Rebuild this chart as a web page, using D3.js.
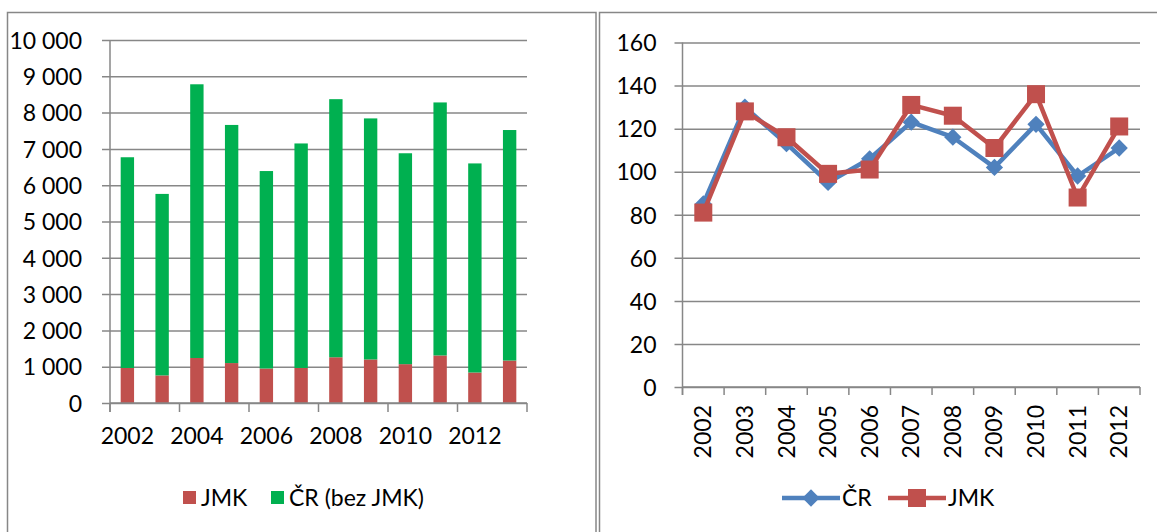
<!DOCTYPE html>
<html><head><meta charset="utf-8">
<script src="https://cdn.jsdelivr.net/npm/d3@7/dist/d3.min.js"></script>
<style>
body{margin:0;background:#fff}
text{font-family:Lato,"Open Sans",sans-serif;fill:#000}
</style>
</head><body>
<svg id="c" width="1157" height="532"></svg>
<script>
// ---- data: left chart (stacked bars) ----
const years = [2002,2003,2004,2005,2006,2007,2008,2009,2010,2011,2012,2013];
const jmk   = [965,760,1240,1100,950,965,1260,1200,1070,1310,840,1170];
const crBez = [5805,5000,7540,6560,5440,6185,7110,6640,5810,6970,5760,6350];
const leftTicks = [0,1000,2000,3000,4000,5000,6000,7000,8000,9000,10000];
const leftLabelYears = [2002,2004,2006,2008,2010,2012];
const leftLegend = ["JMK","ČR (bez JMK)"];

// ---- data: right chart (lines) ----
const lineYears = [2002,2003,2004,2005,2006,2007,2008,2009,2010,2011,2012];
const crIdx  = [85,130,113,95,106,123,116,102,122,98,111];
const jmkIdx = [81,128,116,99,101,131,126,111,136,88,121];
const rightTicks = [0,20,40,60,80,100,120,140,160];
const rightLegend = ["ČR","JMK"];

const GRID = "#878787", RED = "#C0504D", GREEN = "#00B050", BLUE = "#4F81BD";
const FS = 23;
const svg = d3.select("#c");

// panel borders
svg.append("rect").attr("x",7.5).attr("y",12.5).attr("width",588.5).attr("height",530)
  .attr("fill","none").attr("stroke",GRID).attr("stroke-width",1.5);
svg.append("rect").attr("x",599.5).attr("y",12.5).attr("width",570).attr("height",530)
  .attr("fill","none").attr("stroke",GRID).attr("stroke-width",1.5);

// ================= LEFT =================
{
  const L = {x0:110, x1:527, y0:403, y1:40};
  const x = d3.scaleBand().domain(years).range([L.x0,L.x1]).padding(0);
  const y = d3.scaleLinear().domain([0,10000]).range([L.y0,L.y1]);
  const g = svg.append("g");
  const fmt = d => d3.format(",")(d).replace(/,/g," ");
  const ya = g.append("g").attr("transform",`translate(${L.x0},0)`)
    .call(d3.axisLeft(y).tickValues(leftTicks).tickFormat(fmt)
      .tickSize(-(L.x1-L.x0)).tickSizeOuter(0).tickPadding(28));
  ya.select(".domain").remove();
  ya.selectAll("line").attr("stroke",GRID).attr("stroke-width",1.5).attr("x1",-8).attr("x2",L.x1-L.x0);
  ya.selectAll("text").attr("font-size",FS).attr("dy","0.36em");
  g.append("line").attr("x1",L.x0).attr("x2",L.x0).attr("y1",y(10000)).attr("y2",L.y0+9)
    .attr("stroke",GRID).attr("stroke-width",1.5);

  const bw = x.bandwidth()*0.385;
  g.selectAll(".r").data(years).join("rect")
    .attr("x",d=>x(d)+(x.bandwidth()-bw)/2).attr("width",bw)
    .attr("y",(d,i)=>y(jmk[i])).attr("height",(d,i)=>y(0)-y(jmk[i])).attr("fill",RED);
  g.selectAll(".gr").data(years).join("rect")
    .attr("x",d=>x(d)+(x.bandwidth()-bw)/2).attr("width",bw)
    .attr("y",(d,i)=>y(jmk[i]+crBez[i])).attr("height",(d,i)=>y(jmk[i])-y(jmk[i]+crBez[i])).attr("fill",GREEN);

  const xa = g.append("g").attr("transform",`translate(0,${L.y0})`)
    .call(d3.axisBottom(x).tickValues(leftLabelYears).tickSize(0).tickPadding(25));
  xa.select(".domain").remove();
  xa.selectAll("text").attr("font-size",FS);
  g.append("line").attr("x1",L.x0).attr("x2",L.x1).attr("y1",L.y0).attr("y2",L.y0)
    .attr("stroke",GRID).attr("stroke-width",1.5);
  const bounds = years.map(d=>x(d)).concat([L.x1]).filter((d,i)=>i%2===0);
  g.selectAll(".xt").data(bounds).join("line")
    .attr("x1",d=>d).attr("x2",d=>d).attr("y1",L.y0).attr("y2",L.y0+9)
    .attr("stroke",GRID).attr("stroke-width",1.5);

  const lg = g.append("g");
  const items = [{t:leftLegend[0],c:RED,x:183},{t:leftLegend[1],c:GREEN,x:271}];
  items.forEach(it=>{
    lg.append("rect").attr("x",it.x).attr("y",491).attr("width",13).attr("height",13).attr("fill",it.c);
    lg.append("text").attr("x",it.x+18).attr("y",506).attr("font-size",FS).text(it.t);
  });
}

// ================= RIGHT =================
{
  const R = {x0:682.5, x1:1140, y0:387, y1:42.5};
  const x = d3.scaleBand().domain(lineYears).range([R.x0,R.x1]).padding(0);
  const y = d3.scaleLinear().domain([0,160]).range([R.y0,R.y1]);
  const g = svg.append("g");
  const ya = g.append("g").attr("transform",`translate(${R.x0},0)`)
    .call(d3.axisLeft(y).tickValues(rightTicks).tickSize(-(R.x1-R.x0)).tickSizeOuter(0).tickPadding(26));
  ya.select(".domain").remove();
  ya.selectAll("line").attr("stroke",GRID).attr("stroke-width",1.5).attr("x1",-8).attr("x2",R.x1-R.x0);
  ya.selectAll("text").attr("font-size",FS).attr("dy","0.36em");
  g.append("line").attr("x1",R.x0).attr("x2",R.x0).attr("y1",y(160)).attr("y2",R.y0+8)
    .attr("stroke",GRID).attr("stroke-width",1.5);

  g.append("line").attr("x1",R.x0).attr("x2",R.x1).attr("y1",R.y0).attr("y2",R.y0)
    .attr("stroke",GRID).attr("stroke-width",1.5);
  const bounds = lineYears.map(d=>x(d)).concat([R.x1]);
  g.selectAll(".xt").data(bounds).join("line")
    .attr("x1",d=>d).attr("x2",d=>d).attr("y1",R.y0).attr("y2",R.y0+8)
    .attr("stroke",GRID).attr("stroke-width",1.5);
  const xa = g.append("g").attr("transform",`translate(0,${R.y0})`)
    .call(d3.axisBottom(x).tickSize(0).tickPadding(0));
  xa.select(".domain").remove();
  xa.selectAll("text").attr("font-size",FS).attr("text-anchor","end")
    .attr("transform","translate(0,18) rotate(-90)").attr("dy","0.35em").attr("y",0).attr("x",0);

  const cx = d => x(d)+x.bandwidth()/2;
  const line = d3.line().x((d,i)=>cx(lineYears[i])).y(d=>y(d));
  g.append("path").datum(crIdx).attr("d",line).attr("fill","none").attr("stroke",BLUE)
    .attr("stroke-width",4.5).attr("stroke-linejoin","round");
  const dia = d3.symbol().type(d3.symbolDiamond2).size(190);
  g.selectAll(".dm").data(crIdx).join("path")
    .attr("d",dia).attr("transform",(d,i)=>`translate(${cx(lineYears[i])},${y(d)})`).attr("fill",BLUE);
  g.append("path").datum(jmkIdx).attr("d",line).attr("fill","none").attr("stroke",RED)
    .attr("stroke-width",4.5).attr("stroke-linejoin","round");
  const sq = 18;
  g.selectAll(".sq").data(jmkIdx).join("rect")
    .attr("x",(d,i)=>cx(lineYears[i])-sq/2).attr("y",d=>y(d)-sq/2)
    .attr("width",sq).attr("height",sq).attr("fill",RED);

  const lg = g.append("g");
  lg.append("line").attr("x1",782).attr("x2",840).attr("y1",498).attr("y2",498).attr("stroke",BLUE).attr("stroke-width",4.5);
  lg.append("path").attr("d",dia).attr("transform","translate(811,498)").attr("fill",BLUE);
  lg.append("text").attr("x",842).attr("y",506).attr("font-size",FS).text(rightLegend[0]);
  lg.append("line").attr("x1",888).attr("x2",946).attr("y1",498).attr("y2",498).attr("stroke",RED).attr("stroke-width",4.5);
  lg.append("rect").attr("x",917-sq/2).attr("y",498-sq/2).attr("width",sq).attr("height",sq).attr("fill",RED);
  lg.append("text").attr("x",948).attr("y",506).attr("font-size",FS).text(rightLegend[1]);
}
</script>
</body></html>
